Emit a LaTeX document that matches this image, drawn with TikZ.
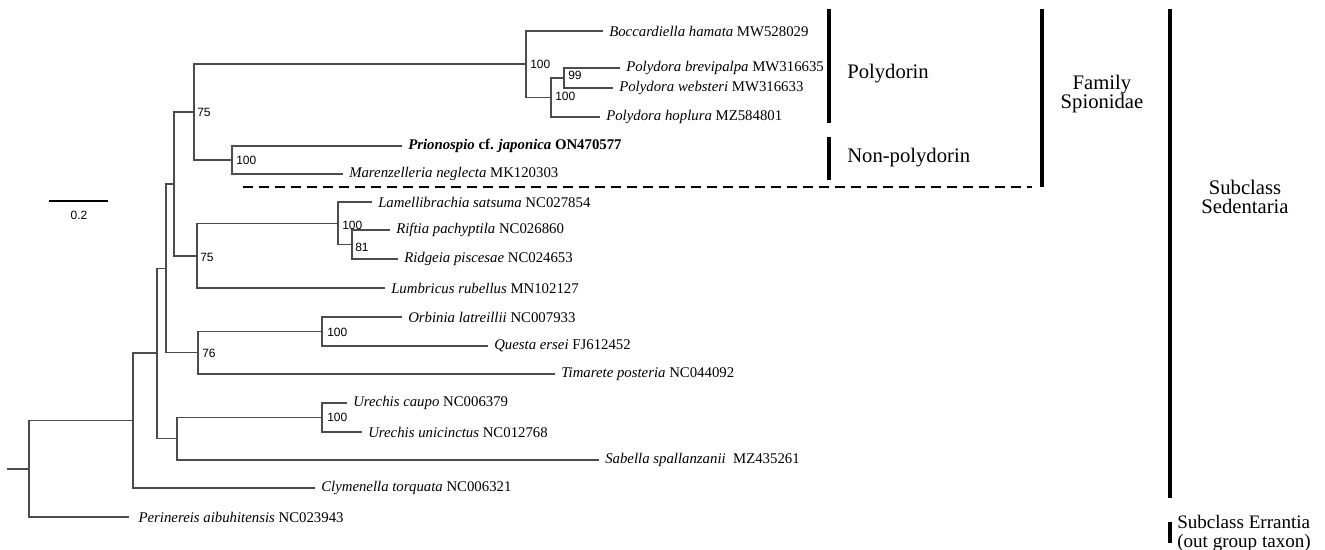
\documentclass[tikz,border=0pt]{standalone}
\usepackage{fontspec}
\setmainfont{Liberation Serif}
\newfontfamily\bsfont{Liberation Sans}
\begin{document}
\begin{tikzpicture}[x=0.75pt,y=-0.75pt,
  edge/.style={draw=black!70,line width=0.8pt},
  leaf/.style={anchor=west,inner xsep=4.5pt,inner ysep=0pt,font=\fontsize{11.1}{13}\selectfont},
  bs/.style={anchor=west,inner sep=0pt,font=\bsfont\fontsize{9}{10}\selectfont},
  bar/.style={line width=2.6pt,black},
  grp/.style={inner sep=0pt,font=\fontsize{15.5}{14.6}\selectfont,align=center},
  dsh/.style={line width=2pt,black,dash pattern=on 7.5pt off 4.5pt}]
\useasboundingbox (0,0) rectangle (1325,550);
% leaves
\node[leaf] (l1) at (603,31) {\textit{Boccardiella hamata} MW528029};
\node[leaf] (l2) at (620,68) {\textit{Polydora brevipalpa} MW316635};
\node[leaf] (l3) at (613,88) {\textit{Polydora websteri} MW316633};
\node[leaf] (l4) at (600,117) {\textit{Polydora hoplura} MZ584801};
\node[leaf] (l5) at (402,146) {\textbf{\textit{Prionospio} cf. \textit{japonica} ON470577}};
\node[leaf] (l6) at (343,174) {\textit{Marenzelleria neglecta} MK120303};
\node[leaf] (l7) at (372,202) {\textit{Lamellibrachia satsuma} NC027854};
\node[leaf] (l8) at (390,230) {\textit{Riftia pachyptila} NC026860};
\node[leaf] (l9) at (398,259) {\textit{Ridgeia piscesae} NC024653};
\node[leaf] (l10) at (385,288) {\textit{Lumbricus rubellus} MN102127};
\node[leaf] (l11) at (402,317) {\textit{Orbinia latreillii} NC007933};
\node[leaf] (l12) at (488,346) {\textit{Questa ersei} FJ612452};
\node[leaf] (l13) at (555,374) {\textit{Timarete posteria} NC044092};
\node[leaf] (l14) at (347,403) {\textit{Urechis caupo} NC006379};
\node[leaf] (l15) at (362,432) {\textit{Urechis unicinctus} NC012768};
\node[leaf] (l16) at (599,460) {\textit{Sabella spallanzanii}\ \ MZ435261};
\node[leaf] (l17) at (315,488) {\textit{Clymenella torquata} NC006321};
\node[leaf,inner xsep=7pt] (l18) at (129,517) {\textit{Perinereis aibuhitensis} NC023943};
% internal nodes
\coordinate (p3) at (564,78);
\coordinate (p2) at (551,97.5);
\coordinate (p1) at (526,64);
\coordinate (pm) at (232,160);
\coordinate (sp) at (194,112);
\coordinate (rr) at (352,244.5);
\coordinate (lm) at (338,223.5);
\coordinate (l75) at (197,256);
\coordinate (na) at (174,184);
\coordinate (oq) at (322,331.5);
\coordinate (t76) at (198,352.5);
\coordinate (nb) at (166,268.5);
\coordinate (nu) at (322,417.5);
\coordinate (us) at (177,438.5);
\coordinate (nc) at (157,353);
\coordinate (nd) at (133,420.5);
\coordinate (rt) at (29,469);
\coordinate (stub) at (7,469);
% edges
\path[edge] (p3) |- (l2.west) (p3) |- (l3.west);
\path[edge] (p2) |- (p3) (p2) |- (l4.west);
\path[edge] (p1) |- (l1.west) (p1) |- (p2);
\path[edge] (pm) |- (l5.west) (pm) |- (l6.west);
\path[edge] (sp) |- (p1) (sp) |- (pm);
\path[edge] (rr) |- (l8.west) (rr) |- (l9.west);
\path[edge] (lm) |- (l7.west) (lm) |- (rr);
\path[edge] (l75) |- (lm) (l75) |- (l10.west);
\path[edge] (na) |- (sp) (na) |- (l75);
\path[edge] (oq) |- (l11.west) (oq) |- (l12.west);
\path[edge] (t76) |- (oq) (t76) |- (l13.west);
\path[edge] (nb) |- (na) (nb) |- (t76);
\path[edge] (nu) |- (l14.west) (nu) |- (l15.west);
\path[edge] (us) |- (nu) (us) |- (l16.west);
\path[edge] (nc) |- (nb) (nc) |- (us);
\path[edge] (nd) |- (nc) (nd) |- (l17.west);
\path[edge] (rt) |- (nd) (rt) |- (l18.west);
\path[edge] (stub) -- (rt);
% bootstrap
\node[bs] at (530,64) {100};
\node[bs] at (568,75) {99};
\node[bs] at (555,96) {100};
\node[bs] at (197,112) {75};
\node[bs] at (236,160) {100};
\node[bs] at (342,225) {100};
\node[bs] at (355,247) {81};
\node[bs] at (200,257) {75};
\node[bs] at (202,353) {76};
\node[bs] at (327,332) {100};
\node[bs] at (327,417) {100};
% scale bar
\coordinate (sb1) at (49,201);
\coordinate (sb2) at (108,201);
\draw[line width=1.2pt] (sb1) -- (sb2);
\node[bs,anchor=center] (sbl) at (79,215) {0.2};
% dashed separator
\coordinate (d1) at (243,187);
\coordinate (d2) at (1032,187);
\draw[dsh] (d1) -- (d2);
% bars
\coordinate (b1a) at (829,9);   \coordinate (b1b) at (829,123);
\coordinate (b2a) at (829,137); \coordinate (b2b) at (829,180);
\coordinate (b3a) at (1042,9);  \coordinate (b3b) at (1042,187);
\coordinate (b4a) at (1170,9);  \coordinate (b4b) at (1170,498);
\coordinate (b5a) at (1170,522); \coordinate (b5b) at (1170,543);
\draw[bar] (b1a) -- (b1b);
\draw[bar] (b2a) -- (b2b);
\draw[bar] (b3a) -- (b3b);
\draw[bar] (b4a) -- (b4b);
\draw[bar] (b5a) -- (b5b);
\node[grp,anchor=west] (gpoly) at (847,74) {Polydorin};
\node[grp,anchor=west] (gnon) at (847,158) {Non-polydorin};
\node[grp] (gfam) at (1102,94) {Family\\Spionidae};
\node[grp] (gsed) at (1245,197) {Subclass\\Sedentaria};
\node[grp,anchor=west,align=left,font=\fontsize{14.3}{14.3}\selectfont] (gerr) at (1177,533) {Subclass Errantia\\(out group taxon)};
\end{tikzpicture}
\end{document}
